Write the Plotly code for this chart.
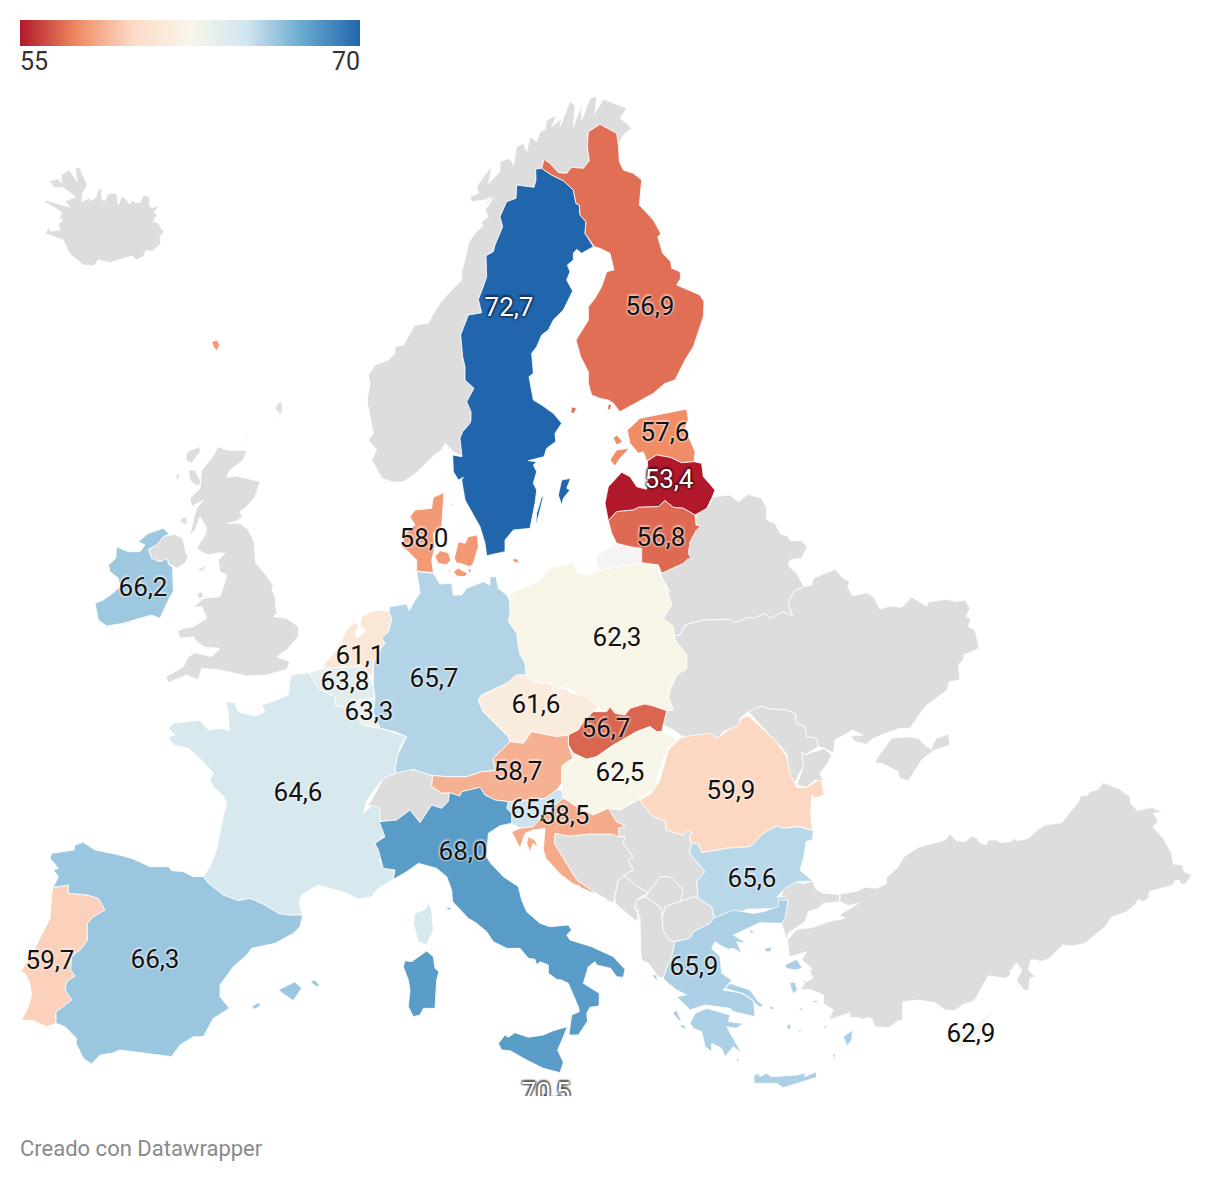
import plotly.graph_objects as go
from plotly.colors import sample_colorscale

# ---------- data ----------
COUNTRIES = ["Suecia", "Finlandia", "Estonia", "Letonia", "Lituania", "Dinamarca", "Irlanda", "Polonia",
             "Alemania", "Países Bajos", "Bélgica", "Luxemburgo", "Chequia", "Eslovaquia", "Austria", "Hungría",
             "Rumanía", "Francia", "Eslovenia", "Croacia", "Italia", "Bulgaria", "Portugal", "España", "Grecia",
             "Chipre", "Malta"]
VALUES = [72.7, 56.9, 57.6, 53.4, 56.8, 58.0, 66.2, 62.3,
          65.7, 61.1, 63.8, 63.3, 61.6, 56.7, 58.7, 62.5,
          59.9, 64.6, 65.1, 58.5, 68.0, 65.6, 59.7, 66.3, 65.9,
          62.9, 70.5]
LABEL_X = [509, 650, 665, 669, 661, 424, 143, 617, 434, 360, 345, 369, 536, 606, 518, 620,
           731, 298, 535, 565, 463, 752, 50, 155, 694, 971, 546]
LABEL_Y = [309, 308, 434, 481, 539, 540, 589, 639, 680, 657, 683, 713, 706, 730, 773, 774,
           792, 794, 811, 817, 853, 880, 962, 961, 968, 1035, 1094]
LEGEND_TICKS = ["55", "70"]
CREDIT = "Creado con Datawrapper"
COLORS = ["#b2182b", "#ef8a62", "#fddbc7", "#f8f6e9", "#d1e5f0", "#67a9cf", "#2166ac"]
CMIN, CMAX = 55, 70
GREY = "#dddddd"

Z2, Z3, Z4, Z5, Z6, Z7, Z8, Z9, Z10, Z11 = ((0, 90), (360, 90), (80, 400), (390, 400), (660, 480),
                                            (0, 680), (360, 680), (600, 700), (400, 900), (780, 770))
def P(f, pts):
    return [(f[0] + a / 3, f[1] + b / 3) for a, b in pts]

SHAPES = {}
SHAPES["Islandia"] = [P(Z2, [(135,330),(185,345),(210,352),(195,332),(228,322),(188,292),(162,293),(148,272),(165,270),(172,265),(185,280),(183,255),(208,240),(232,275),(225,235),(240,232),(248,255),(262,285),(248,310),(245,335),(272,322),(270,333),(288,322),(295,297),(303,295),(307,330),(315,332),(325,310),(350,310),(355,345),(365,318),(380,330),(387,342),(400,330),(405,338),(420,338),(430,315),(448,320),(450,350),(460,352),(478,345),(462,368),(472,372),(460,395),(472,397),(492,425),(480,440),(482,462),(458,483),(438,482),(430,500),(408,510),(398,498),(370,505),(330,518),(295,510),(282,527),(250,525),(208,490),(190,450),(135,430),(147,410),(150,423),(180,420),(175,403),(188,390),(178,388),(185,368),(148,343),(135,340)])]
SHAPES["Noruega"] = [
    P(Z3, [(30,1010),(20,940),(30,880),(25,855),(45,825),(85,810),(105,790),(105,770),(130,765),(145,740),(165,705),(205,700),(215,680),(240,640),(270,605),(305,570),(305,545),(320,490),(325,460),(345,430),(370,405),(360,400),(385,380),(375,360),(400,325),(370,350),(395,320),(375,330),(335,335),(330,320),(355,310),(350,290),(385,240),(395,235),(385,280),(420,245),(420,215),(450,205),(460,225),(470,170),(490,160),(500,185),(510,140),(530,155),(540,125),(555,120),(560,90),(590,75),(575,110),(605,85),(600,110),(630,35),(645,45),(640,110),(665,45),(665,90),(690,25),(710,18),(705,70),(730,28),(750,35),(800,55),(780,85),(800,100),(815,115),(790,135),(775,165),(770,130),(720,103),(685,125),(682,170),(688,212),(670,235),(635,232),(620,250),(595,248),(570,220),(552,208),(545,235),(527,237),(528,270),(522,292),(470,285),(468,325),(440,335),(420,380),(428,410),(405,465),(400,485),(378,497),(380,560),(370,590),(355,628),(365,668),(325,675),(302,735),(308,800),(315,830),(315,870),(342,895),(320,935),(333,965),(333,990)])
    + P(Z5, [(240,70),(218,95),(210,115),(216,170),(190,155),(165,130),(155,150),(130,168),(75,222),(40,245),(0,248)])
    + P(Z4, [(885,235),(945,248),(905,235),(875,180),(890,150),(865,120),(880,100),(860,0)])
]
SHAPES["Shetland"] = [P(Z2, [(825,955),(835,938),(845,935),(848,960),(835,990),(838,970)])]
SHAPES["Reino Unido"] = [
    P(Z4, [(415,140),(440,150),(500,152),(490,180),(450,210),(440,232),(470,228),(540,245),(525,290),(500,320),(480,335),(488,350),(465,365),(440,370),(480,370),(505,390),(522,425),(527,490),(550,515),(580,555),(575,570),(585,590),(590,640),(580,650),(620,655),(655,680),(655,710),(620,750),(590,770),(630,785),(620,808),(560,825),(500,828),(475,822),(420,810),(365,805),(355,840),(320,825),(265,848),(258,830),(310,800),(325,770),(345,758),(395,770),(420,745),(375,742),(350,725),(340,710),(300,715),(293,692),(310,685),(340,680),(380,655),(365,620),(340,622),(370,595),(420,590),(435,545),(440,525),(420,515),(415,480),(435,460),(415,458),(385,465),(365,455),(350,445),(375,405),(380,385),(360,350),(345,390),(330,405),(345,340),(350,325),(370,300),(335,320),(330,295),(345,280),(360,265),(365,210),(395,175)]),
    P(Z4, [(320,155),(360,140),(360,155),(335,190),(318,180)]),
    P(Z4, [(325,210),(345,210),(365,250),(350,258),(330,240)]),
    P(Z4, [(290,225),(300,220),(295,240),(287,235)]),
    P(Z4, [(305,355),(320,350),(322,375),(300,365)]),
    P(Z4, [(355,510),(375,495),(375,505),(360,515)]),
    P(Z4, [(350,580),(365,575),(370,590),(358,598)]),
    P(Z4, [(497,115),(503,115),(500,128)]),
    P(Z4, [(205,450),(230,435),(250,410),(285,403),(308,415),(318,460),(325,470),(315,490),(290,505),(265,490),(262,475),(240,485),(215,475)]),
]
SHAPES["Suiza"] = [P(Z8, [(20,380),(35,360),(70,295),(105,280),(160,268),(218,287),(215,320),(248,340),(268,338),(265,365),(245,385),(215,375),(180,428),(150,390),(110,420),(60,425),(55,390),(25,375)])]
SHAPES["Bielorrusia"] = [P(Z6, [(110,92),(150,75),(160,50),(210,45),(235,65),(265,43),(305,55),(320,85),(320,120),(345,130),(360,160),(385,170),(390,182),(425,182),(442,200),(425,235),(390,240),(385,258),(410,280),(432,320),(400,335),(385,370),(398,408),(370,395),(350,405),(330,415),(315,400),(280,415),(265,412),(225,428),(210,418),(130,420),(75,435),(60,465),(42,468),(35,440),(10,415),(35,375),(15,310),(0,280),(50,260),(55,240),(85,225),(85,190),(105,150),(120,140),(107,130)])]
SHAPES["Ucrania"] = [
    P(Z6, [(42,468),(60,465),(75,435),(130,420),(210,418),(225,428),(265,412),(280,415),(315,400),(330,415),(350,405),(370,395),(398,408),(385,370),(400,335),(432,320),(455,315),(460,295),(525,268),(550,295),(570,305),(562,320),(578,347),(620,338),(640,350),(660,388),(690,378),(725,382),(755,352),(800,378),(805,365),(860,358),(890,365),(915,360),(930,385),(918,410),(932,415),(925,440),(945,450),(958,505),(912,525),(910,540),(895,555),(900,600),(868,605),(862,630),(795,680),(770,715),(750,745),(720,745),(690,755),(640,775),(620,793),(585,785),(572,768),(610,765),(578,750),(525,780),(520,820),(495,805),(475,800),(470,775),(440,770),(435,740),(410,730),(405,700),(390,695),(375,688),(330,688),(305,678),(265,695),(240,715),(238,735),(190,755),(175,775),(150,762),(130,768),(90,770),(65,768),(40,750),(10,735),(20,690),(40,690),(25,650),(30,630),(50,585),(80,565),(80,525),(45,480)]),
    P(Z6, [(425,815),(435,825),(460,815),(475,812),(490,805),(515,825),(500,855),(480,880),(490,905),(465,900),(440,922),(410,915),(430,860)]),
    P(Z6, [(645,850),(650,835),(695,775),(740,770),(775,775),(800,800),(815,808),(820,790),(830,775),(865,762),(870,795),(820,812),(785,840),(760,880),(745,903),(718,895),(715,875),(665,850)]),
]
SHAPES["Moldavia"] = [P(Z6, [(265,695),(305,678),(330,688),(375,688),(405,700),(410,730),(435,740),(440,770),(470,775),(475,800),(435,825),(425,815),(430,860),(415,885),(405,910),(385,880),(382,825),(355,790),(320,755),(285,715)])]
SHAPES["Bosnia"] = [P(Z8, [(585,460),(625,468),(690,462),(755,462),(778,470)]) + P(Z9, [(75,410),(70,430),(100,470),(85,480),(100,510),(70,525),(55,540),(45,590),(40,610)]) + P(Z8, [(708,640),(650,600),(620,550),(583,490)])]
SHAPES["Serbia"] = [P(Z8, [(778,470),(775,445),(795,438),(770,425),(745,385),(780,390),(850,350),(885,330)]) + P(Z9, [(118,300),(160,350),(195,362),(200,390),(248,405),(262,392),(280,400),(268,408),(275,430),(268,458),(285,480),(315,515),(290,545),(295,595),(285,590),(240,605),(250,570),(210,530),(180,530),(145,578),(105,555),(70,525),(100,510),(85,480),(100,470),(70,430),(75,410)])]
SHAPES["Montenegro"] = [P(Z9, [(45,590),(55,540),(70,525),(105,555),(145,578),(110,600),(105,625),(120,650),(110,665),(80,640),(45,610)])]
SHAPES["Kosovo"] = [P(Z9, [(145,578),(180,530),(210,530),(250,570),(240,605),(195,620),(190,645),(180,620),(150,600),(135,590)])]
SHAPES["Albania"] = [P(Z9, [(110,600),(135,590),(150,600),(180,620),(190,645)]) + P(Z10, [(785,40),(790,90),(805,118),(825,125),(815,170),(800,205),(790,235),(775,230),(745,190),(725,180),(722,150),(720,50),(712,50),(715,25)]) + P(Z9, [(110,665),(120,650),(105,625)])]
SHAPES["Macedonia"] = [P(Z9, [(190,645),(195,620),(240,605),(285,590),(295,595),(335,620),(345,662)]) + P(Z10, [(930,70),(880,95),(870,115),(825,125),(805,118),(790,90),(785,40)])]
SHAPES["Turquía"] = [
    P(Z11, [(5,378),(10,355),(50,335),(70,342),(98,332),(105,355),(125,368),(180,375),(178,395),(130,400),(115,415),(85,425),(75,455),(25,490),(20,510),(5,460),(15,425),(25,400)]),
    P(Z11, [(180,372),(235,362),(255,352),(290,355),(318,342),(320,322),(355,290),(370,262),(415,232),(495,210),(510,192),(530,212),(555,215),(575,198),(592,205),(595,215),(618,225),(625,210),(650,210),(660,217),(695,215),(700,205),(712,212),(745,205),(770,182),(795,165),(845,158),(900,90),(900,78),(922,75),(930,65),(955,58),(970,38),(1015,55),(1050,80),(1052,100),(1072,122),(1115,112),(1148,127),(1120,130),(1135,155),(1118,170),(1150,205),(1175,250),(1180,282),(1207,285),(1212,305),(1235,315),(1215,345),(1200,340),(1198,330),(1185,332),(1180,345),(1108,365),(1105,385),(1090,395),(1075,388),(1065,405),(1040,425),(995,442),(975,470),(915,520),(880,528),(848,525),(805,568),(778,575),(775,570),(752,570),(745,600),(767,620),(750,625),(745,662),(732,660),(710,632),(725,600),(710,578),(690,605),(692,615),(675,625),(625,617),(598,665),(590,680),(578,695),(550,703),(525,722),(495,720),(465,698),(415,690),(368,695),(368,750),(355,752),(325,773),(285,770),(275,745),(262,743),(250,748),(235,743),(210,742),(210,728),(145,750),(160,720),(130,700),(130,675),(90,658),(60,660),(75,640),(60,625),(80,635),(98,625),(88,600),(97,597),(65,570),(80,545),(28,562),(22,510),(50,478),(95,473),(145,455),(195,445),(178,435),(235,400),(205,407),(180,395)]),
]

SHAPES["Suecia"] = [
    P(Z3, [(527,237),(545,235),(575,255),(610,272),(640,300),(648,340),(658,345),(660,375),(678,395),(675,430),(700,470),(680,480),(665,490),(650,478),(640,490),(640,510),(622,525),(630,545),(620,570),(638,603),(610,660),(580,690),(565,720),(545,735),(530,770),(515,790),(520,850),(507,860),(520,930),(545,945),(580,970),(605,1000)])
    + P(Z5, [(495,100),(497,125),(470,145),(462,170),(415,182),(440,185),(430,195),(440,215),(430,250),(440,270),(435,310),(420,385),(370,390),(345,420),(345,455),(290,467),(285,430),(270,380),(225,300),(215,240),(220,232),(205,240),(190,215),(188,165),(216,170),(210,115),(218,95),(240,70)])
    + P(Z3, [(333,990),(333,965),(320,935),(342,895),(315,870),(315,830),(308,800),(302,735),(325,675),(365,668),(355,628),(370,590),(380,560),(378,497),(400,485),(405,465),(428,410),(420,380),(440,335),(468,325),(470,285),(522,292),(528,270)]),
    P(Z5, [(515,240),(542,235),(530,265),(540,270),(520,295),(515,315),(505,285)]),
    P(Z5, [(455,290),(460,290),(445,350),(437,378),(440,340)]),
]
SHAPES["Finlandia"] = [
    P(Z3, [(720,103),(770,130),(775,165),(778,215),(790,240),(820,250),(845,270),(838,345),(880,390),(903,432),(893,440),(908,490),(932,515),(935,535),(960,545),(962,565),(950,585),(1020,615),(1032,635),(1030,680),(1000,770),(975,810),(945,870),(915,880),(880,910),(780,965),(760,940),(745,930),(720,925),(695,915),(685,880),(685,845),(662,800),(648,750),(670,715),(685,690),(685,650),(705,625),(725,590),(740,545),(762,540),(750,490),(720,475),(703,470),(675,430),(678,395),(660,375),(658,345),(648,340),(640,300),(610,272),(575,255),(545,235),(552,208),(570,220),(595,248),(620,250),(635,232),(670,235),(688,212),(682,170),(685,125)]),
    P(Z3, [(635,950),(650,955),(642,970),(632,968)]),
    P(Z3, [(745,942),(755,945),(750,960),(743,958)]),
]
SHAPES["Estonia"] = [
    P(Z5, [(712,90),(750,55),(890,27),(895,60),(885,85),(915,155),(912,185),(875,188),(840,172),(800,165),(770,183),(760,155),(745,160),(720,130)]),
    P(Z5, [(670,115),(680,105),(698,125),(680,135)]),
    P(Z5, [(660,180),(680,150),(718,145),(690,175),(675,198)]),
]
SHAPES["Letonia"] = [P(Z5, [(772,183),(800,165),(840,172),(875,188),(912,185),(935,190),(940,230),(975,270),(965,295),(950,325),(915,345),(880,325),(850,322),(825,302),(805,320),(745,322),(730,330),(680,335),(655,362),(645,310),(655,260),(695,217),(720,230),(740,260),(770,268),(775,225)])]
SHAPES["Lituania"] = [P(Z5, [(655,362),(680,335),(730,330),(745,322),(805,320),(825,302),(850,322),(880,325),(915,345),(918,375),(932,378),(918,392),(900,425),(895,460),(905,480),(895,475),(880,490),(815,520),(805,495),(755,488),(755,445),(720,440),(680,430),(665,400)])]
SHAPES["Kaliningrado"] = [P(Z5, [(620,465),(680,430),(755,445),(755,490),(625,510),(620,490)])]
SHAPES["Dinamarca"] = [
    P(Z5, [(162,278),(158,330),(155,380),(130,400),(135,440),(125,480),(130,518),(80,513),(80,480),(50,450),(35,440),(45,400),(75,375),(60,350),(75,330),(125,325),(130,292)]),
    P(Z5, [(135,470),(150,452),(175,458),(182,480),(170,495),(145,490)]),
    P(Z5, [(193,475),(205,425),(225,430),(235,410),(262,405),(265,440),(250,490),(240,500),(210,490),(200,490)]),
    P(Z5, [(190,515),(205,505),(232,520),(225,530),(200,528)]),
    P(Z5, [(232,505),(245,510),(240,522)]),
    P(Z5, [(175,518),(185,495),(178,520)]),
    P(Z5, [(368,475),(385,478),(385,490),(370,485)]),
    P(Z5, [(180,312),(190,310),(185,316)]),
    P(Z2, [(635,755),(650,750),(660,765),(650,782),(640,770)]),
]
SHAPES["Irlanda"] = [P(Z4, [(205,448),(215,475),(240,485),(262,475),(265,492),(278,502),(280,575),(270,590),(240,655),(215,645),(180,655),(130,670),(80,678),(55,660),(45,610),(70,600),(100,578),(120,560),(115,535),(90,515),(85,495),(107,475),(110,440),(145,455),(180,455),(195,435),(175,425),(205,400),(250,385),(268,402),(250,410),(230,435)])]
SHAPES["Polonia"] = [P(Z5, [(358,582),(445,545),(480,505),(545,488),(565,522),(600,525),(625,510),(755,490),(805,495),(810,525),(840,575)]) + P(Z6, [(15,310),(35,375),(10,415),(40,440),(45,480),(80,525),(80,565),(50,585),(30,630),(25,650),(40,690)]) + P(Z8, [(920,92),(880,78),(855,72),(810,85),(795,105),(765,100),(750,80),(740,95),(715,82),(680,50),(640,30),(600,20)]) + P(Z5, [(560,885),(520,865),(490,875),(485,852),(425,845),(408,825),(405,790),(388,760),(380,700),(355,665),(360,640),(358,600)])]
SHAPES["Alemania"] = [P(Z5, [(80,515),(130,520),(150,552),(185,550),(190,585),(215,585),(230,565),(280,545),(300,555),(300,530),(318,530),(325,565),(350,585),(358,600),(360,640),(355,665),(380,700),(388,760),(405,790),(408,825),(380,825),(350,850),(275,885)]) + P(Z8, [(355,60),(370,95),(445,170),(450,185),(400,235),(405,272),(365,275),(320,290),(265,290),(218,287),(160,268),(105,280),(110,230),(140,170),(105,155),(60,145),(40,100),(30,60)]) + P(Z4, [(885,890),(880,860),(880,790),(895,755),(915,730),(905,715),(925,695),(935,655),(925,640),(930,620)]) + P(Z5, [(50,612),(58,632),(75,600),(90,580)])]
SHAPES["Países Bajos"] = [P(Z4, [(845,650),(880,632),(925,632),(935,655),(925,695),(905,715),(915,730),(895,755),(880,790),(878,830),(865,820),(850,800),(800,800),(735,805),(730,795),(770,750),(800,690),(825,665),(835,680),(825,700),(830,715),(850,700),(855,690),(840,680)])]
SHAPES["Bélgica"] = [P(Z4, [(685,818),(735,805),(800,800),(850,800),(865,820),(880,860),(885,895),(834,900)]) + P(Z7, [(1075,75),(1065,96),(1040,85),(1005,75),(1005,50),(960,30)]) + P(Z4, [(700,840)])]
SHAPES["Luxemburgo"] = [P(Z4, [(834,900),(885,895)]) + P(Z8, [(40,100),(60,145),(6,135)]) + P(Z7, [(1065,96),(1075,75)])]
SHAPES["Chequia"] = [P(Z5, [(275,885),(350,850),(380,825),(408,825),(425,845),(485,852),(490,875),(520,865),(560,885)]) + P(Z8, [(640,30),(680,50),(715,82),(700,95),(670,125),(655,150),(625,165),(590,170),(515,155),(490,190),(450,185),(445,170),(370,95),(355,60)])]
SHAPES["Eslovaquia"] = [P(Z8, [(625,195),(625,165),(655,150),(670,125),(700,95),(740,95),(750,80),(765,100),(795,105),(810,85),(855,72),(880,78),(920,92),(905,155),(890,155),(870,140),(830,155),(795,175),(780,185),(760,195),(710,230),(680,238),(640,220)])]
SHAPES["Austria"] = [P(Z8, [(218,287),(215,320),(248,340),(268,338),(300,348),(305,335),(360,322),(375,345),(405,360),(445,365),(510,360),(555,355),(590,330),(605,310),(605,260),(615,250),(640,235),(625,195),(625,165),(590,170),(515,155),(490,190),(450,185),(400,235),(405,272),(365,275),(320,290),(265,290)])]
SHAPES["Hungría"] = [P(Z8, [(605,260),(615,250),(640,235),(625,195),(640,220),(680,238),(710,230),(760,195),(780,185),(795,175),(830,155),(870,140),(890,155),(905,155),(930,165),(960,185),(925,200),(895,280),(885,330),(850,350),(780,390),(745,385),(700,405),(650,380),(610,355),(605,330),(605,310)])]
SHAPES["Rumanía"] = [P(Z9, [(118,300),(155,280),(180,240),(205,150),(240,115),(265,108),(330,100),(352,115),(385,90),(415,75),(425,55),(445,48),(470,70),(530,125),(560,170),(570,220),(590,262),(620,262),(655,240),(665,245),(672,285),(645,295),(635,285),(632,320),(632,345),(638,390),(595,380),(550,385),(530,378),(490,400),(450,440),(380,445),(305,458),(295,432),(275,430),(268,408),(280,400),(262,392),(248,405),(200,390),(195,362),(160,350)])]
SHAPES["Francia"] = [
    P(Z7, [(675,65),(705,68),(715,95),(765,108),(795,95),(785,75),(830,60),(865,45),(870,0)])
    + P(Z4, [(635,825),(685,818),(700,840)]) + P(Z7, [(960,30),(1005,50),(1005,75),(1040,85),(1065,96)]) + P(Z8, [(6,135),(60,145)])
    + P(Z7, [(1220,170),(1200,200),(1185,260),(1185,282),(1150,295),(1115,340),(1100,365),(1090,400),(1115,375),(1140,385),(1140,425),(1155,465),(1125,490),(1145,510),(1138,545),(1185,575),(1178,600),(1135,625),(1115,650),(1075,658),(1040,640),(990,625),(955,615),(905,645),(897,670),(908,705),(860,705),(835,700),(795,675),(750,655),(715,662),(670,645),(625,610),(610,590),(630,560),(650,510),(665,435),(670,405),(680,375),(672,350),(640,320),(630,300),(640,280),(610,245),(565,205),(520,195),(505,172),(525,165),(505,145),(520,130),(600,120),(625,150),(665,145),(688,152),(685,95)]),
    P(Z10, [(85,10),(95,30),(100,90),(80,135),(55,125),(40,70),(45,40),(75,28)]),
]
SHAPES["Eslovenia"] = [P(Z8, [(445,365),(510,360),(555,355),(590,330),(605,330),(610,355),(585,375),(565,395),(550,405),(555,445),(520,440),(480,445),(455,430),(455,400),(440,385)])]
SHAPES["Croacia"] = [
    P(Z8, [(610,355),(650,380),(700,405),(745,385),(770,425),(795,438),(775,445),(778,470),(755,462),(690,462),(625,468),(585,460),(583,490),(620,550),(650,600),(712,642),(690,635),(640,612),(600,582),(558,535),(550,510),(555,445),(520,450),(495,460),(480,505),(455,455),(480,445),(520,440),(550,405),(565,395),(585,375)]),
    P(Z8, [(505,470),(525,480),(535,505),(520,490),(510,515),(500,490)]),
    P(Z8, [(640,612),(660,618),(640,615)]),
    P(Z8, [(670,645),(690,640),(665,650)]),
    P(Z8, [(735,660),(770,672),(740,665)]),
]
SHAPES["Italia"] = [
    P(Z8, [(58,425),(110,420),(150,390),(180,428),(215,375),(245,385),(265,365),(268,338),(300,348),(305,335),(360,322),(375,345),(405,360),(445,365),(440,385),(455,400),(455,430),(420,437),(385,460),(380,530),(392,550),(430,590),(475,620)])
    + P(Z10, [(365,0),(380,35),(420,70),(450,80),(505,75),(515,90),(500,105),(510,120),(575,140),(640,170),(675,208),(670,232),(650,230),(632,205),(590,195),(585,185),(565,200),(550,250),(598,280),(597,318),(570,322),(560,340),(563,363),(535,405),(507,405),(510,380),(515,345),(538,335),(535,320),(505,250),(485,240),(470,238),(445,220),(445,195),(420,185),(410,195),(405,178),(385,175),(360,145),(320,145),(280,125),(260,95),(230,70),(205,55),(185,35),(158,5)])
    + P(Z8, [(275,630),(260,590),(230,565),(175,550),(140,575),(100,598),(105,570),(70,565),(55,510),(45,490),(75,470)]),
    P(Z10, [(295,430),(315,405),(325,412),(345,398),(385,412),(430,405),(460,392),(502,380),(490,410),(473,450),(490,487),(480,518),(430,505),(380,480),(330,452),(305,450)]),
    P(Z10, [(10,200),(15,182),(35,185),(80,153),(100,170),(105,205),(117,215),(110,240),(105,325),(70,325),(60,345),(40,350),(25,320),(30,270),(25,240)]),
    P(Z10, [(135,25),(152,22),(150,30)]),
]
SHAPES["Bulgaria"] = [P(Z9, [(305,458),(380,445),(450,440),(490,400),(530,378),(550,385),(595,380),(640,392),(638,418),(618,425),(612,470),(600,510),(638,543),(610,545),(590,545),(555,565),(530,592),(555,590),(565,605),(555,630),(530,625),(440,628),(390,650),(345,662),(335,620),(295,595),(290,545),(315,515),(285,480),(268,458),(275,430),(295,432)])]
SHAPES["Portugal"] = [P(Z7, [(160,622),(205,615),(205,640),(262,645),(295,655),(315,690),(280,710),(262,730),(262,780),(245,805),(215,830),(212,870),(225,888),(200,905),(195,930),(215,960),(168,995),(168,1030),(140,1040),(100,1022),(65,1020),(85,980),(95,945),(88,905),(75,880),(62,875),(90,830),(120,775),(150,715),(155,640)])]
SHAPES["España"] = [
    P(Z7, [(155,520),(222,510),(225,495),(250,487),(285,510),(345,522),(395,535),(450,560),(505,560),(515,572),(550,575),(580,590),(610,590),(625,610),(670,645),(715,662),(750,655),(795,675),(835,700),(860,705),(908,705),(900,740),(880,760),(825,790),(755,805),(740,825),(700,860),(660,915),(660,950),(688,985),(640,1015),(610,1070),(580,1070),(540,1095),(515,1130),(480,1125),(360,1110),(335,1120),(300,1125),(275,1152),(250,1135),(228,1090),(230,1075),(195,1040),(168,1030),(168,995),(215,960),(195,930),(200,905),(225,888),(212,870),(215,830),(245,805),(262,780),(262,730),(280,710),(315,690),(295,655),(262,645),(205,640),(205,615),(160,622),(175,590),(160,570),(175,565),(150,535)]),
    P(Z7, [(835,930),(885,905),(905,925),(880,962),(855,945)]),
    P(Z7, [(930,905),(945,900),(960,918),(950,920)]),
    P(Z7, [(755,980),(775,968),(782,975),(765,988)]),
]
SHAPES["Grecia"] = [
    P(Z10, [(825,125),(870,115),(880,95),(930,70),(940,55),(1000,30),(1060,40),(1090,35),(1135,20),(1135,0),(1165,0),(1155,55),(1145,70),(1080,68),(1000,105),(1040,130),(1010,125),(1025,160),(1000,145),(985,148),(960,135),(945,125),(935,145),(960,170),(965,220),(995,240),(970,270),(1030,280),(1060,300),(1065,350),(1000,335),(990,325),(915,315),(870,330),(830,290),(860,285),(830,270),(805,250),(790,235),(800,205),(815,170)]),
    P(Z10, [(870,370),(885,340),(920,325),(990,345),(985,365),(1030,370),(1010,385),(980,380),(1025,460),(1000,440),(975,470),(965,445),(935,430),(935,455),(915,440),(905,395),(880,385)]),
    P(Z10, [(1062,525),(1075,520),(1080,530),(1100,520),(1115,530),(1190,525),(1215,520),(1215,530),(1248,515),(1250,532),(1150,563),(1130,550),(1062,550)]),
    P(Z10, [(975,265),(990,250),(1050,270),(1075,305),(1090,315),(1080,322),(1055,300),(1025,280)]),
    P(Z10, [(1155,195),(1190,178),(1207,205),(1185,210),(1158,205)]),
    P(Z10, [(1168,250),(1185,245),(1192,270),(1180,282)]),
    P(Z10, [(1330,410),(1358,390),(1355,420),(1340,438)]),
    P(Z10, [(1160,380),(1170,370),(1172,385),(1165,390)]),
    P(Z10, [(755,225),(770,225),(772,245)]),
    P(Z10, [(818,340),(830,330),(845,365),(835,360)]),
    P(Z10, [(838,375),(855,375),(855,390)]),
    P(Z10, [(1050,88),(1065,98),(1050,100)]),
    P(Z10, [(1095,145),(1115,140),(1112,155),(1095,155)]),
    P(Z10, [(1235,305),(1250,300),(1252,310)]),
    P(Z10, [(1105,320),(1120,320),(1122,333)]),
    P(Z10, [(1198,325),(1210,322),(1200,333)]),
    P(Z10, [(1195,395),(1207,385),(1200,398)]),
    P(Z10, [(1270,385),(1282,370),(1277,385)]),
    P(Z10, [(1298,465),(1305,458),(1305,485)]),
    P(Z10, [(1010,470),(1018,485),(1010,485)]),
]
SHAPES["Chipre"] = [P(Z11, [(525,830),(510,815),(570,785),(600,755),(648,712),(600,775),(570,820),(545,835)])]
SHAPES["Malta"] = [P(Z10, [(430,582),(438,582),(438,590),(430,590)])]

GREY_SHAPES = ["Islandia", "Noruega", "Shetland", "Reino Unido", "Suiza", "Bielorrusia", "Ucrania", "Moldavia",
               "Bosnia", "Serbia", "Montenegro", "Kosovo", "Albania", "Macedonia", "Turquía"]

COLORSCALE = [[i / (len(COLORS) - 1), c] for i, c in enumerate(COLORS)]

def colour(v):
    t = min(1, max(0, (v - CMIN) / (CMAX - CMIN)))
    return sample_colorscale(COLORSCALE, [t])[0]

def region(name, fill):
    xs, ys = [], []
    for ring in SHAPES[name]:
        xs += [p[0] for p in ring] + [ring[0][0], None]
        ys += [p[1] for p in ring] + [ring[0][1], None]
    return go.Scatter(x=xs, y=ys, mode="lines", fill="toself", fillcolor=fill, name=name,
                      line=dict(color="white", width=0.8), hoverinfo="skip", showlegend=False)

fig = go.Figure()
for n in GREY_SHAPES:
    fig.add_trace(region(n, GREY))
fig.add_trace(region("Kaliningrado", "#f4f4f4"))
for n, v in zip(COUNTRIES, VALUES):
    fig.add_trace(region(n, colour(v)))

# invisible markers carry the values and the colour bar
fig.add_trace(go.Scatter(
    x=LABEL_X, y=LABEL_Y, mode="markers", hoverinfo="skip", showlegend=False,
    marker=dict(size=1, opacity=0, color=VALUES, colorscale=COLORSCALE, cmin=CMIN, cmax=CMAX, showscale=True,
                colorbar=dict(orientation="h", lenmode="pixels", len=340, thickness=26, thicknessmode="pixels",
                              x=20 / 1212, xanchor="left", y=1 - 20 / 1182, yanchor="top", xpad=0, ypad=0,
                              outlinewidth=0, borderwidth=0, ticks="", showticklabels=False))))

def ring_shadow(rgba, off=1.2, blur=1.5):
    return ", ".join(f"{a*off}px {b*off}px {blur}px {rgba}" for a, b in
                     [(-1, -1), (1, -1), (-1, 1), (1, 1), (0, -1.3), (0, 1.3), (-1.3, 0), (1.3, 0)])

def label_group(kind, shadow, colour_):
    idx = [i for i, v in enumerate(VALUES) if kind(v)]
    fig.add_trace(go.Scatter(
        x=[LABEL_X[i] for i in idx], y=[LABEL_Y[i] for i in idx],
        text=[f"{VALUES[i]:.1f}".replace(".", ",") for i in idx],
        mode="text", textposition="middle center", hoverinfo="skip", showlegend=False, cliponaxis=True,
        textfont=dict(family="Roboto", size=26, color=colour_, shadow=shadow)))

label_group(lambda v: 54 < v < 70, ring_shadow("rgba(255,255,255,.22)"), "#111111")
label_group(lambda v: v == 72.7, ring_shadow("rgba(15,45,85,.45)"), "#ffffff")
label_group(lambda v: v == 53.4, ring_shadow("rgba(60,15,25,.4)"), "#ffffff")
label_group(lambda v: v == 70.5, ring_shadow("rgba(60,60,60,.45)"), "#ffffff")

fig.update_layout(
    width=1212, height=1182, margin=dict(l=0, r=0, t=0, b=0, autoexpand=False),
    paper_bgcolor="white", plot_bgcolor="white", showlegend=False,
    xaxis=dict(range=[0, 1212], visible=False, fixedrange=True),
    yaxis=dict(range=[1096, 0], domain=[1 - 1096 / 1182, 1], visible=False, fixedrange=True),
    font=dict(family="Roboto"),
    annotations=[
        dict(text=LEGEND_TICKS[0], xref="paper", yref="paper", x=18 / 1212, y=1 - 61 / 1182, xanchor="left",
             yanchor="middle", showarrow=False, font=dict(size=25, color="#333333", family="Roboto")),
        dict(text=LEGEND_TICKS[1], xref="paper", yref="paper", x=362 / 1212, y=1 - 61 / 1182, xanchor="right",
             yanchor="middle", showarrow=False, font=dict(size=25, color="#333333", family="Roboto")),
        dict(text=CREDIT, xref="paper", yref="paper", x=18 / 1212, y=1 - 1148 / 1182, xanchor="left",
             yanchor="middle", showarrow=False, font=dict(size=22, color="#8a8a8a", family="Roboto")),
    ],
)
fig.write_html("out.html", config={"displayModeBar": False}, post_script="document.body.style.margin='0';")
